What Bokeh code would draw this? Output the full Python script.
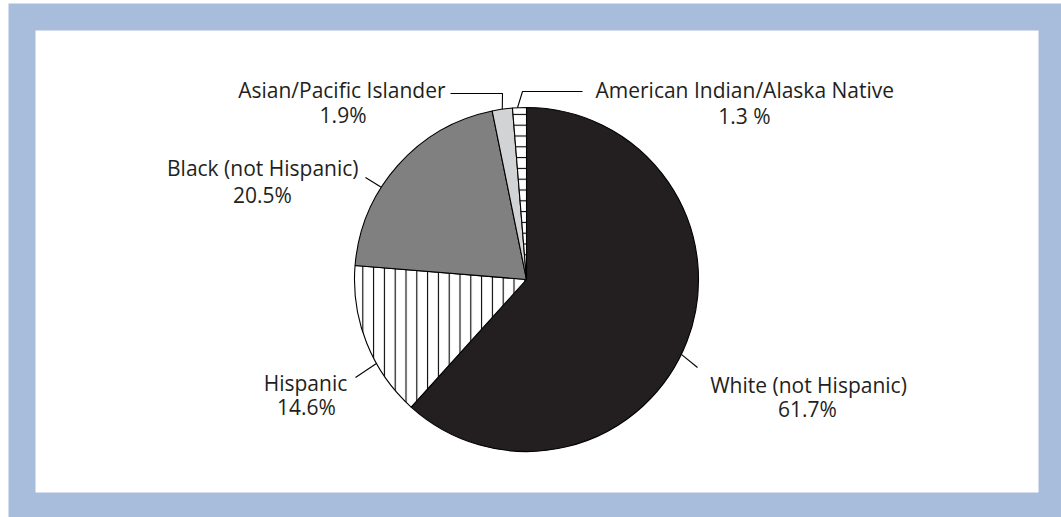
import math
from bokeh.plotting import figure
from bokeh.models import Range1d
from bokeh.core.properties import value
from bokeh.embed import file_html
from bokeh.resources import INLINE

# ---- data ----
categories = ["White (not Hispanic)", "Hispanic", "Black (not Hispanic)",
              "Asian/Pacific Islander", "American Indian/Alaska Native"]
percents = [61.7, 14.6, 20.5, 1.9, 1.3]
pct_labels = ["61.7%", "14.6%", "20.5%", "1.9%", "1.3 %"]
fill_colors = ["#231f20", "#ffffff", "#808080", "#d1d3d4", "#ffffff"]
hatches = [" ", "vertical_line", " ", " ", "horizontal_line"]

# ---- layout (pixel space, y measured from top) ----
W, H = 1061, 517
CX, CY, R = 526, 279, 172
TEXT_COLOR = "#231f20"
FONT = "Open Sans"
FS = "21px"

def Y(ypx):
    return H - ypx

p = figure(width=W, height=H, x_range=Range1d(0, W), y_range=Range1d(0, H),
           output_backend="svg", toolbar_location=None, min_border=0)
p.axis.visible = False
p.grid.visible = False
p.outline_line_color = None
p.background_fill_color = "white"
p.border_fill_color = "white"

# frame
p.quad(left=[8], right=[W], bottom=[Y(H)], top=[Y(3)], fill_color="#a8bcdc", line_color=None)
p.quad(left=[35], right=[1038], bottom=[Y(492)], top=[Y(30)], fill_color="white", line_color=None)

# wedges: clockwise from 12 o'clock
total = sum(percents)
starts, ends, mids = [], [], []
acc = 0.0
for v in percents:
    a0 = acc / total * 360.0
    acc += v
    a1 = acc / total * 360.0
    starts.append(math.radians(90 - a0))
    ends.append(math.radians(90 - a1))
    mids.append((a0 + a1) / 2)

for i in range(len(percents)):
    p.wedge(x=[CX], y=[Y(CY)], radius=R, start_angle=[starts[i]], end_angle=[ends[i]],
            direction="clock", fill_color=fill_colors[i], line_color="black", line_width=1.1,
            hatch_pattern=hatches[i], hatch_color="black", hatch_weight=1.1,
            hatch_scale=10.8, hatch_alpha=1.0)

def edge(theta):
    t = math.radians(theta)
    return CX + R * math.sin(t), CY - R * math.cos(t)

# leader lines: (angle on pie clockwise from top, list of outer points)
leaders = [
    (115.8, [(697, 367)]),
    (240.75, [(355, 377)]),
    (302.4, [(365, 177)]),
    (mids[3], [(502, 93), (450, 93)]),
    (357.0, [(522, 91), (582, 91)]),
]
for ang, pts in leaders:
    ex, ey = edge(ang)
    xs = [ex] + [q[0] for q in pts]
    ys = [Y(ey)] + [Y(q[1]) for q in pts]
    p.line(xs, ys, line_color="black", line_width=1.1)

# label text positions: (x, baseline_y, align) for name and percent lines
label_pos = [
    ((808, 384, "center"), (807, 408, "center")),
    ((305, 382, "center"), (306, 406, "center")),
    ((358, 167, "right"), (262, 194, "center")),
    ((445, 89, "right"), (366, 114, "right")),
    ((595, 89, "left"), (744, 115, "center")),
]
for i, (l1, l2) in enumerate(label_pos):
    for (x, yb, al), txt in ((l1, categories[i]), (l2, pct_labels[i])):
        p.text(x=[x], y=[Y(yb)], text=[txt], text_align=al, text_baseline="alphabetic",
               text_font=value(FONT), text_font_size=FS, text_color=TEXT_COLOR)

open("out.html", "w").write(file_html(p, INLINE))
